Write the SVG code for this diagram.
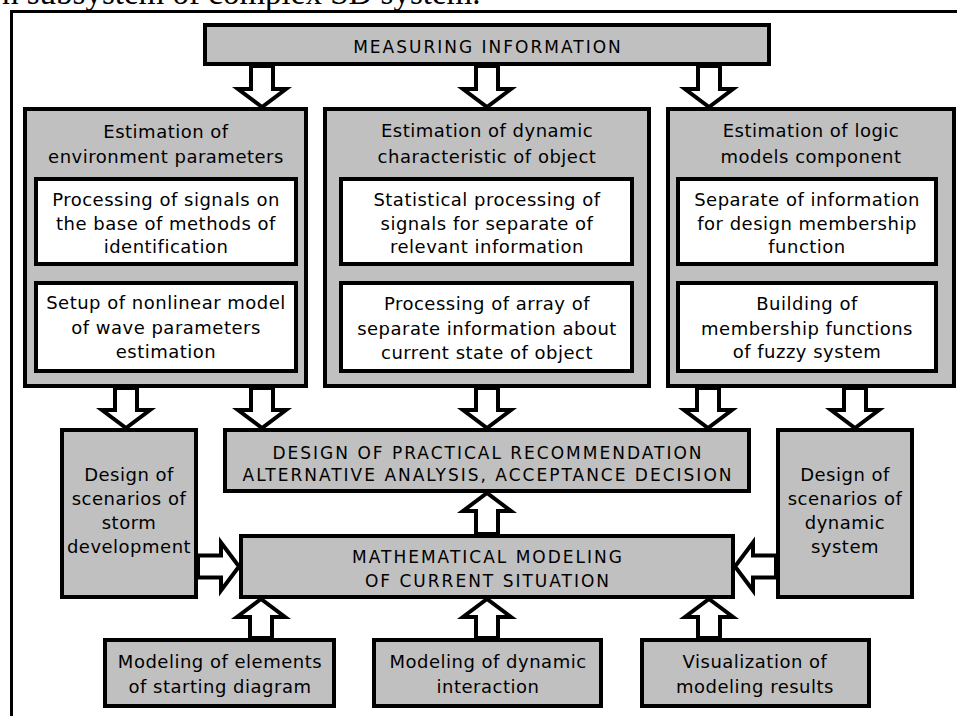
<svg xmlns="http://www.w3.org/2000/svg" width="957" height="716" viewBox="0 0 957 716">
<style>
.g{fill:#c0c0c0;stroke:#000;stroke-width:4}
.w{fill:#fff;stroke:#000;stroke-width:4}
.a{fill:#fff;stroke:#000;stroke-width:4;stroke-linejoin:miter}
.t{font-family:"DejaVu Sans","Liberation Sans",sans-serif;font-size:18px;letter-spacing:0.5px;text-anchor:middle;fill:#000}
.c{font-size:17px;letter-spacing:2px}
</style>
<rect width="957" height="716" fill="#fff"/>
<text x="2" y="4" font-family="'Liberation Serif',serif" font-size="33" fill="#000">n subsystem of complex SD system.</text>
<path d="M11.5,716 V11.5 H957" fill="none" stroke="#000" stroke-width="3"/>

<g id="measuring">
<rect class="g" x="205" y="25" width="564" height="39"/>
<text class="t c" x="488" y="53">MEASURING INFORMATION</text>
</g>

<g id="env">
<rect class="g" x="25" y="109" width="281" height="277"/>
<text class="t" x="166" y="138">Estimation of</text>
<text class="t" x="166" y="163">environment parameters</text>
<rect class="w" x="36" y="179" width="260" height="85"/>
<text class="t" x="166" y="206">Processing of signals on</text>
<text class="t" x="166" y="230">the base of methods of</text>
<text class="t" x="166" y="253">identification</text>
<rect class="w" x="36" y="283" width="260" height="88"/>
<text class="t" x="166" y="309">Setup of nonlinear model</text>
<text class="t" x="166" y="334">of wave parameters</text>
<text class="t" x="166" y="358">estimation</text>
</g>

<g id="dyn">
<rect class="g" x="325" y="109" width="324" height="277"/>
<text class="t" x="487" y="137">Estimation of dynamic</text>
<text class="t" x="487" y="163">characteristic of object</text>
<rect class="w" x="341" y="179" width="291" height="85"/>
<text class="t" x="487" y="206">Statistical processing of</text>
<text class="t" x="487" y="230">signals for separate of</text>
<text class="t" x="487" y="253">relevant information</text>
<rect class="w" x="341" y="283" width="291" height="88"/>
<text class="t" x="487" y="310">Processing of array of</text>
<text class="t" x="487" y="335">separate information about</text>
<text class="t" x="487" y="359">current state of object</text>
</g>

<g id="logic">
<rect class="g" x="668" y="109" width="286" height="277"/>
<text class="t" x="811" y="137">Estimation of logic</text>
<text class="t" x="811" y="163">models component</text>
<rect class="w" x="678" y="179" width="258" height="85"/>
<text class="t" x="807" y="206">Separate of information</text>
<text class="t" x="807" y="230">for design membership</text>
<text class="t" x="807" y="253">function</text>
<rect class="w" x="678" y="283" width="258" height="88"/>
<text class="t" x="807" y="310">Building of</text>
<text class="t" x="807" y="335">membership functions</text>
<text class="t" x="807" y="358">of fuzzy system</text>
</g>

<g id="storm">
<rect class="g" x="62" y="430" width="134" height="167"/>
<text class="t" x="129" y="481">Design of</text>
<text class="t" x="129" y="505">scenarios of</text>
<text class="t" x="129" y="529">storm</text>
<text class="t" x="129" y="553">development</text>
</g>

<g id="design">
<rect class="g" x="225" y="430" width="524" height="61"/>
<text class="t c" x="488" y="459">DESIGN OF PRACTICAL RECOMMENDATION</text>
<text class="t c" x="488" y="481">ALTERNATIVE ANALYSIS, ACCEPTANCE DECISION</text>
</g>

<g id="dynsys">
<rect class="g" x="778" y="430" width="134" height="167"/>
<text class="t" x="845" y="481">Design of</text>
<text class="t" x="845" y="505">scenarios of</text>
<text class="t" x="845" y="529">dynamic</text>
<text class="t" x="845" y="553">system</text>
</g>

<g id="math">
<rect class="g" x="241" y="536" width="492" height="61"/>
<text class="t c" x="488" y="563">MATHEMATICAL MODELING</text>
<text class="t c" x="488" y="587">OF CURRENT SITUATION</text>
</g>

<g id="elements">
<rect class="g" x="105" y="640" width="229" height="66"/>
<text class="t" x="220" y="668">Modeling of elements</text>
<text class="t" x="220" y="693">of starting diagram</text>
</g>

<g id="interaction">
<rect class="g" x="374" y="640" width="227" height="66"/>
<text class="t" x="488" y="668">Modeling of dynamic</text>
<text class="t" x="488" y="693">interaction</text>
</g>

<g id="visual">
<rect class="g" x="642" y="640" width="227" height="66"/>
<text class="t" x="755" y="668">Visualization of</text>
<text class="t" x="755" y="693">modeling results</text>
</g>

<g id="connectors">
<polygon class="a" points="251,66 273,66 273,89 286,89 262,107 238,89 251,89"/>
<polygon class="a" points="476,66 498,66 498,89 511,89 487,107 463,89 476,89"/>
<polygon class="a" points="698,66 720,66 720,89 733,89 709,107 685,89 698,89"/>

<polygon class="a" points="115,388 137,388 137,410 150,410 126,428 102,410 115,410"/>
<polygon class="a" points="251,388 273,388 273,410 286,410 262,428 238,410 251,410"/>
<polygon class="a" points="476,388 498,388 498,410 511,410 487,428 463,410 476,410"/>
<polygon class="a" points="697,388 719,388 719,410 732,410 708,428 684,410 697,410"/>
<polygon class="a" points="844,388 866,388 866,410 879,410 855,428 831,410 844,410"/>

<polygon class="a" points="476,534 498,534 498,511 511,511 487,493 463,511 476,511"/>

<polygon class="a" points="250,638 272,638 272,617 285,617 261,599 237,617 250,617"/>
<polygon class="a" points="476,638 498,638 498,617 511,617 487,599 463,617 476,617"/>
<polygon class="a" points="698,638 720,638 720,617 733,617 709,599 685,617 698,617"/>

<polygon class="a" points="198,555.5 221,555.5 221,542.5 239,566.5 221,590.5 221,577.5 198,577.5"/>
<polygon class="a" points="776,555.5 753,555.5 753,542.5 735,566.5 753,590.5 753,577.5 776,577.5"/>
</g>
</svg>
